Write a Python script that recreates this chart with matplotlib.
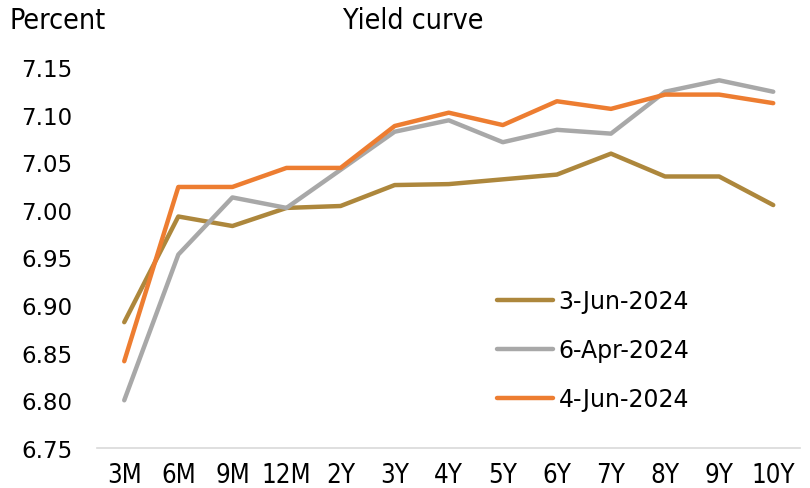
import matplotlib
matplotlib.use('Agg')
import matplotlib.pyplot as plt

tenors = ['3M', '6M', '9M', '12M', '2Y', '3Y', '4Y', '5Y', '6Y', '7Y', '8Y', '9Y', '10Y']
jun3 = [6.882, 6.993, 6.983, 7.002, 7.004, 7.026, 7.027, 7.032, 7.037, 7.059, 7.035, 7.035, 7.005]
apr6 = [6.800, 6.953, 7.013, 7.002, 7.042, 7.082, 7.094, 7.071, 7.084, 7.080, 7.124, 7.136, 7.124]
jun4 = [6.841, 7.024, 7.024, 7.044, 7.044, 7.088, 7.102, 7.089, 7.114, 7.106, 7.121, 7.121, 7.112]
yticks = [6.75, 6.80, 6.85, 6.90, 6.95, 7.00, 7.05, 7.10, 7.15]

fig = plt.figure(figsize=(8.1, 4.89), dpi=100)
ax = fig.add_axes([0.12, 0.082, 0.868, 0.779])

x = range(len(tenors))
ax.plot(x, jun3, color='#AD873C', lw=3.2, label='3-Jun-2024', solid_capstyle='round')
ax.plot(x, apr6, color='#A8A8A8', lw=3.2, label='6-Apr-2024', solid_capstyle='round')
ax.plot(x, jun4, color='#ED7D31', lw=3.2, label='4-Jun-2024', solid_capstyle='round')

ax.set_xlim(-0.5, len(tenors) - 0.5)
ax.set_ylim(6.75, 7.15)
ax.set_yticks(yticks)
ax.set_yticklabels([f'{v:.2f}' for v in yticks], fontsize=16.5)
ax.set_xticks(list(x))
ax.set_xticklabels(tenors, fontsize=18.5, fontstretch='condensed')
ax.tick_params(axis='y', length=0, pad=18)
ax.tick_params(axis='x', length=0, pad=10)
for s in ['top', 'right', 'left']:
    ax.spines[s].set_visible(False)
ax.spines['bottom'].set_color('#D9D9D9')
ax.spines['bottom'].set_linewidth(1.2)

ax.legend(loc='center left', bbox_to_anchor=(0.569, 0.257), frameon=False, fontsize=17,
          handlelength=2.35, handletextpad=0.25, labelspacing=1.05, borderpad=0, borderaxespad=0)

fig.text(0.012, 0.957, 'Percent', fontsize=20.5, fontstretch='condensed', va='center', ha='left')
fig.text(0.51, 0.957, 'Yield curve', fontsize=20.5, fontstretch='condensed', va='center', ha='center')

fig.savefig('out.png', dpi=100)
